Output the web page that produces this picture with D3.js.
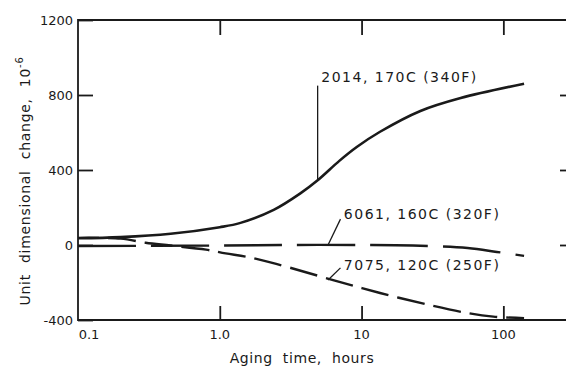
<!DOCTYPE html>
<html>
<head>
<meta charset="utf-8">
<script src="https://cdnjs.cloudflare.com/ajax/libs/d3/7.8.5/d3.min.js"></script>
<style>
  body { margin: 0; background: #fff; }
  svg text { font-family: "DejaVu Sans", sans-serif; fill: #1a1a1a; }
</style>
</head>
<body>
<div id="viz"></div>
<script>
/* Aging curves: unit dimensional change vs aging time (log scale) */

var hours2014 = [0.1, 0.2, 0.45, 1, 1.4, 2.4, 3.7, 4.9, 7, 9.3, 13.5, 26, 50, 140],
    vals2014  = [36, 42, 60, 95, 118, 187, 275, 345, 450, 524, 604, 715, 784, 860];

var hours6061 = [0.1, 1, 2.7, 10, 23, 56, 90, 140],
    vals6061  = [-5, -3, 0, 0, -3, -16, -37, -58];

var hours7075 = [0.1, 0.2, 0.3, 0.45, 0.8, 1.1, 1.55, 2.5, 6.3, 13.5, 30, 56, 85, 140],
    vals7075  = [38, 34, 12, -3, -25, -45, -63, -101, -187, -256, -320, -363, -382, -390];

var yTickVals = [-400, 0, 400, 800, 1200],
    xTickVals = [0.1, 1, 10, 100],
    xTickText = ['0.1', '1.0', '10', '100'];

var labels = [
  { text: '2014, 170C (340F)', x: 5.2, y: 870, lx: [4.9, 4.9], ly: [345, 850] },
  { text: '6061, 160C (320F)', x: 7.5, y: 140, lx: [5.8, 7.1], ly: [0, 138] },
  { text: '7075, 120C (250F)', x: 7.5, y: -135, lx: [5.8, 7.1], ly: [-187, -122] }
];

var width = 566,
    height = 370,
    ink = '#1a1a1a';

var svg = d3.select('#viz').append('svg')
    .attr('width', width)
    .attr('height', height);

var xScale = d3.scaleLog()
    .domain([0.1, 300])
    .range([78, 571]);

var yScale = d3.scaleLinear()
    .domain([-400, 1200])
    .range([320, 20]);

// frame: left, bottom, top, right
svg.append('path')
    .attr('d', 'M' + xScale(300) + ',' + yScale(1200) +
               'H' + xScale(0.1) + 'V' + yScale(-400) + 'H' + xScale(300) + 'Z')
    .attr('fill', 'none')
    .attr('stroke', ink)
    .attr('stroke-width', 1.8);

// left ticks with labels
var leftAxis = d3.axisRight(yScale)
    .tickValues(yTickVals)
    .tickSize(15)
    .tickFormat('');

svg.append('g')
    .attr('transform', 'translate(' + xScale(0.1) + ',0)')
    .call(leftAxis)
    .call(function(g) {
      g.select('.domain').remove();
      g.selectAll('line').attr('stroke', ink).attr('stroke-width', 1.8);
    });

svg.append('g').selectAll('text')
    .data(yTickVals)
    .enter().append('text')
    .attr('x', xScale(0.1) - 5)
    .attr('y', function(d) { return yScale(d) + 5; })
    .attr('text-anchor', 'end')
    .attr('font-size', 13)
    .text(function(d) { return d; });

// right ticks
svg.append('g')
    .attr('transform', 'translate(' + xScale(300) + ',0)')
    .call(d3.axisLeft(yScale).tickValues([0, 400, 800]).tickSize(11).tickFormat(''))
    .call(function(g) {
      g.select('.domain').remove();
      g.selectAll('line').attr('stroke', ink).attr('stroke-width', 1.8);
    });

// top & bottom ticks
svg.append('g')
    .attr('transform', 'translate(0,' + yScale(1200) + ')')
    .call(d3.axisBottom(xScale).tickValues([1, 10, 100]).tickSize(15).tickFormat(''))
    .call(function(g) {
      g.select('.domain').remove();
      g.selectAll('line').attr('stroke', ink).attr('stroke-width', 1.8);
    });

svg.append('g')
    .attr('transform', 'translate(0,' + yScale(-400) + ')')
    .call(d3.axisTop(xScale).tickValues([1, 10, 100]).tickSize(14).tickFormat(''))
    .call(function(g) {
      g.select('.domain').remove();
      g.selectAll('line').attr('stroke', ink).attr('stroke-width', 1.8);
    });

svg.append('g').selectAll('text')
    .data(xTickVals)
    .enter().append('text')
    .attr('x', function(d, i) { return xScale(d) + (i === 0 ? 11 : 0); })
    .attr('y', 339)
    .attr('text-anchor', 'middle')
    .attr('font-size', 13)
    .text(function(d, i) { return xTickText[i]; });

// axis titles
svg.append('text')
    .attr('x', 302)
    .attr('y', 363)
    .attr('text-anchor', 'middle')
    .attr('font-size', 14)
    .attr('letter-spacing', 0.6)
    .attr('word-spacing', 5)
    .text('Aging time, hours');

var yTitle = svg.append('text')
    .attr('transform', 'translate(30,181) rotate(-90)')
    .attr('text-anchor', 'middle')
    .attr('font-size', 14)
    .attr('letter-spacing', 0.7)
    .attr('word-spacing', 6);
yTitle.append('tspan').text('Unit dimensional change, 10');
yTitle.append('tspan')
    .attr('dy', -7)
    .attr('font-size', 10)
    .text('-6');

// curves
var line = d3.line()
    .x(function(d) { return xScale(d[0]); })
    .y(function(d) { return yScale(d[1]); })
    .curve(d3.curveCatmullRom.alpha(0.5));

function pairs(h, v) {
  return h.map(function(d, i) { return [d, v[i]]; });
}

svg.append('path')
    .datum(pairs(hours2014, vals2014))
    .attr('d', line)
    .attr('fill', 'none')
    .attr('stroke', ink)
    .attr('stroke-width', 2.6);

svg.append('path')
    .datum(pairs(hours6061, vals6061))
    .attr('d', line)
    .attr('fill', 'none')
    .attr('stroke', ink)
    .attr('stroke-width', 2.4)
    .attr('stroke-dasharray', '58,15');

svg.append('path')
    .datum(pairs(hours7075, vals7075))
    .attr('d', line)
    .attr('fill', 'none')
    .attr('stroke', ink)
    .attr('stroke-width', 2.4)
    .attr('stroke-dasharray', '28,9')
    .attr('stroke-dashoffset', -30);

// curve labels and leaders
var lab = svg.append('g').selectAll('g')
    .data(labels)
    .enter().append('g');

lab.append('line')
    .attr('x1', function(d) { return xScale(d.lx[0]); })
    .attr('x2', function(d) { return xScale(d.lx[1]); })
    .attr('y1', function(d) { return yScale(d.ly[0]); })
    .attr('y2', function(d) { return yScale(d.ly[1]); })
    .attr('stroke', ink)
    .attr('stroke-width', 1.3);

lab.append('text')
    .attr('x', function(d) { return xScale(d.x); })
    .attr('y', function(d) { return yScale(d.y); })
    .attr('font-size', 14)
    .attr('textLength', 155)
    .text(function(d) { return d.text; });
</script>
</body>
</html>
